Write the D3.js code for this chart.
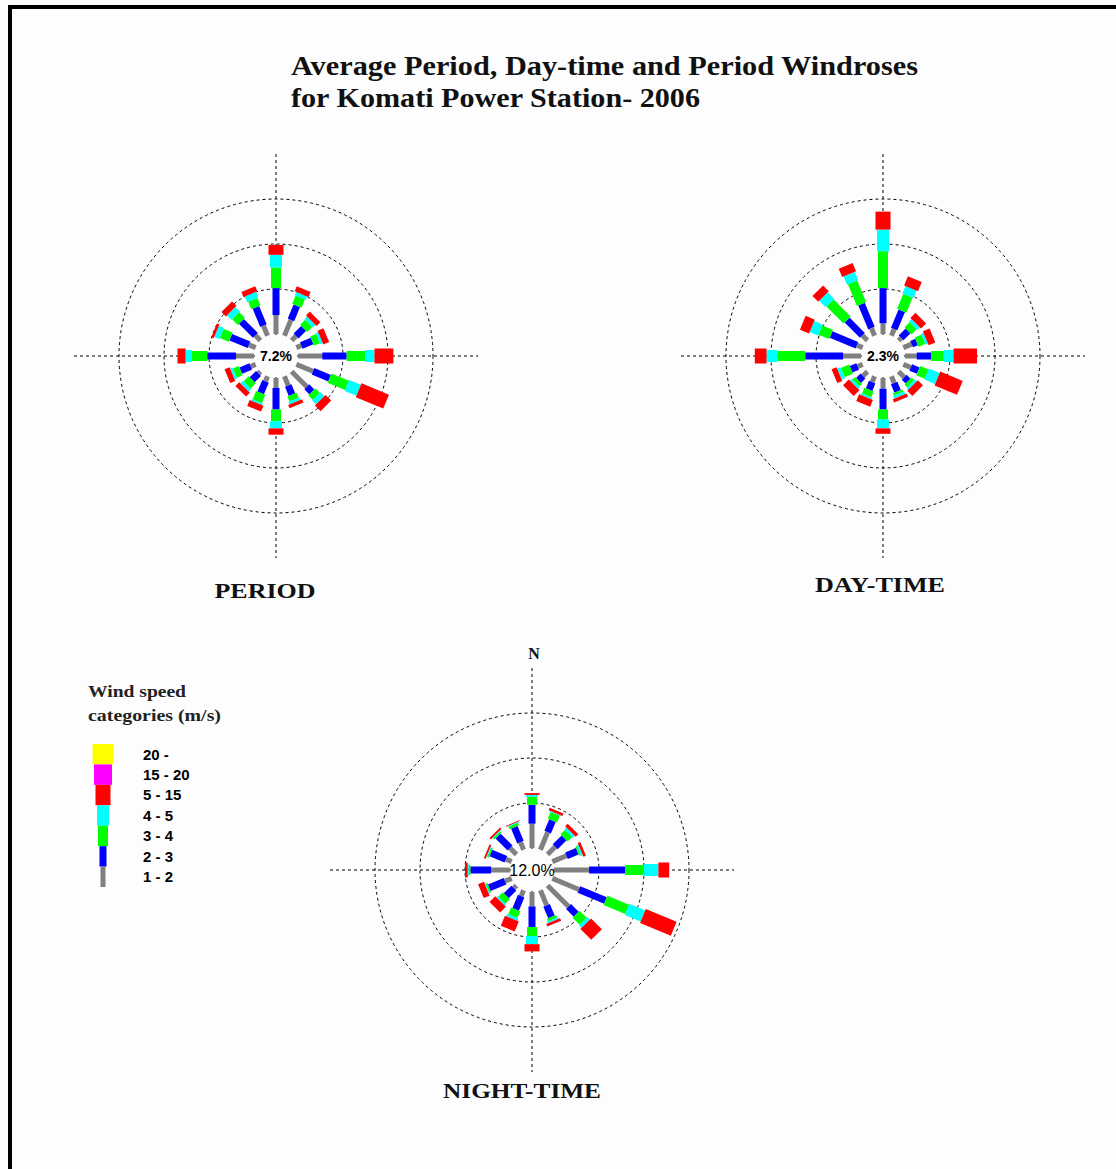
<!DOCTYPE html>
<html>
<head>
<meta charset="utf-8">
<script src="https://cdn.jsdelivr.net/npm/d3@7"></script>
<style>
  html, body { margin: 0; padding: 0; background: #fdfdfd; }
  svg { display: block; }
</style>
</head>
<body>
<div id="chart"></div>
<script>
// ---- data (percent of hours) ----
const directions = ["N","NNE","NE","ENE","E","ESE","SE","SSE","S","SSW","SW","WSW","W","WNW","NW","NNW"];
const categories = ["1 - 2","2 - 3","3 - 4","4 - 5","5 - 15"];
const legendLabels = ["20 -","15 - 20","5 - 15","4 - 5","3 - 4","2 - 3","1 - 2"];
const ringValues = [5, 10, 15];

// one row per direction: [1-2, 2-3, 3-4, 4-5, 5-15]
const periodValues = [
  [2.1, 3.0, 2.3, 1.4, 1.1],
  [1.9, 1.7, 1.0, 0.4, 0.6],
  [0.7, 1.2, 0.8, 0.4, 0.6],
  [0.6, 1.3, 0.7, 0.3, 0.7],
  [2.7, 2.7, 2.1, 1.0, 2.1],
  [2.0, 2.0, 2.1, 1.4, 3.3],
  [2.4, 0.8, 0.7, 0.6, 0.9],
  [1.1, 1.1, 0.6, 0.3, 0.4],
  [1.1, 2.4, 1.3, 0.8, 0.7],
  [0.6, 1.4, 1.0, 0.2, 0.7],
  [0.3, 1.0, 0.8, 0.4, 0.6],
  [0.6, 1.2, 0.7, 0.3, 0.6],
  [2.0, 3.2, 1.7, 0.7, 0.9],
  [0.8, 2.2, 1.1, 0.6, 0.3],
  [0.8, 2.2, 0.9, 0.7, 0.7],
  [1.2, 2.2, 0.9, 0.7, 0.6]
];
const dayValues = [
  [1.2, 3.9, 4.1, 2.4, 2.0],
  [0.8, 2.2, 1.8, 0.9, 1.1],
  [0.4, 1.1, 0.8, 0.4, 0.8],
  [1.0, 0.6, 0.8, 0.3, 0.8],
  [1.3, 1.6, 1.4, 1.1, 2.6],
  [0.9, 0.9, 1.0, 1.3, 2.7],
  [0.9, 0.6, 0.4, 0.3, 0.8],
  [0.8, 1.0, 0.3, 0.3, 0.4],
  [1.2, 2.3, 1.1, 1.0, 0.6],
  [0.7, 0.9, 0.7, 0.2, 0.8],
  [0.7, 0.7, 0.4, 0.3, 0.9],
  [0.6, 0.8, 1.0, 0.4, 0.6],
  [2.0, 4.2, 3.1, 1.2, 1.3],
  [0.7, 3.1, 1.3, 1.0, 1.1],
  [0.8, 2.4, 2.7, 1.0, 0.9],
  [0.9, 2.9, 2.6, 1.0, 1.0]
];
const nightValues = [
  [2.7, 2.1, 0.9, 0.2, 0.2],
  [2.1, 1.4, 0.8, 0.1, 0.3],
  [1.2, 1.4, 0.7, 0.3, 0.4],
  [1.7, 1.3, 0.2, 0.2, 0.3],
  [3.9, 4.0, 2.1, 1.6, 1.2],
  [3.2, 3.2, 2.6, 1.9, 3.7],
  [3.3, 1.2, 1.1, 0.4, 1.7],
  [1.8, 1.4, 0.3, 0.2, 0.3],
  [1.6, 2.3, 1.0, 0.9, 0.8],
  [0.7, 1.6, 0.8, 0.3, 1.2],
  [0.4, 1.2, 0.7, 0.2, 0.9],
  [0.8, 1.9, 0.2, 0.1, 0.7],
  [2.1, 2.3, 0.2, 0.1, 0.3],
  [0.7, 1.8, 0.2, 0.1, 0.2],
  [1.0, 1.9, 0.2, 0.1, 0.2],
  [0.9, 1.8, 0.3, 0.1, 0.1]
];
const calms = { period: "7.2%", day: "2.3%", night: "12.0%" };

// ---- styles ----
const catColors = ["#808080", "#0000ff", "#00ff00", "#00ffff", "#ff0000"];
const catWidths = [5, 7, 10, 12, 15];
const legendColors = ["#ffff00", "#ff00ff", "#ff0000", "#00ffff", "#00ff00", "#0000ff", "#808080"];
const legendWidths = [21, 18, 15, 12, 10, 7, 5];
const serif = "'Liberation Serif', 'Times New Roman', serif";
const sans = "'Liberation Sans', Arial, sans-serif";

const width = 1116, height = 1169;
const holeR = 22;

const svg = d3.select("#chart").append("svg")
  .attr("width", width)
  .attr("height", height);

svg.append("rect").attr("width", width).attr("height", height).attr("fill", "#fdfdfd");

// frame (top and left edges only visible)
svg.append("rect").attr("x", 8).attr("y", 5).attr("width", width - 8).attr("height", 4).attr("fill", "#000");
svg.append("rect").attr("x", 8).attr("y", 5).attr("width", 4).attr("height", height - 5).attr("fill", "#000");

// title
const title = svg.append("g")
  .attr("font-family", serif)
  .attr("font-weight", "bold")
  .attr("font-size", 28)
  .attr("fill", "#111");
title.append("text").attr("x", 291).attr("y", 75)
  .attr("textLength", 627).attr("lengthAdjust", "spacingAndGlyphs")
  .text("Average Period, Day-time and Period Windroses");
title.append("text").attr("x", 291).attr("y", 107)
  .attr("textLength", 409).attr("lengthAdjust", "spacingAndGlyphs")
  .text("for Komati Power Station- 2006");

const r = d3.scaleLinear().domain([0, 15]).range([holeR, holeR + 135]);
const stack = d3.stack().keys(d3.range(categories.length));

function windrose(cx, cy, values, calm, label, opts) {
  const g = svg.append("g").attr("transform", `translate(${cx},${cy})`);
  const dash = "3,3";

  // rings
  g.selectAll("circle.ring").data(ringValues).join("circle")
    .attr("class", "ring")
    .attr("r", d => r(d))
    .attr("fill", "none")
    .attr("stroke", "#000")
    .attr("stroke-width", 1)
    .attr("stroke-dasharray", dash);

  // axes
  const L = 202;
  g.append("line").attr("x1", -L).attr("x2", L).attr("y1", 0).attr("y2", 0)
    .attr("stroke", "#000").attr("stroke-dasharray", dash);
  g.append("line").attr("x1", 0).attr("x2", 0).attr("y1", -L).attr("y2", L)
    .attr("stroke", "#000").attr("stroke-dasharray", dash);

  // calm hole
  g.append("circle").attr("r", holeR - 1).attr("fill", "#fdfdfd");

  const series = stack(values);
  const angle = d3.scaleLinear().domain([0, directions.length]).range([0, 360]);

  const dirs = g.selectAll("g.dir").data(directions).join("g")
    .attr("class", "dir")
    .attr("transform", (d, i) => `rotate(${angle(i)})`);

  dirs.each(function (d, i) {
    const sel = d3.select(this);
    series.forEach((s, k) => {
      const [v0, v1] = s[i];
      if (v1 - v0 <= 0) return;
      sel.append("rect")
        .attr("x", -catWidths[k] / 2)
        .attr("y", -r(v1))
        .attr("width", catWidths[k])
        .attr("height", r(v1) - r(v0))
        .attr("fill", catColors[k]);
    });
  });

  g.append("text")
    .attr("text-anchor", "middle")
    .attr("dy", "0.36em")
    .attr("font-family", sans)
    .attr("font-size", opts.calmSize)
    .attr("font-weight", opts.calmWeight)
    .attr("fill", "#000")
    .text(calm);

  svg.append("text")
    .attr("x", opts.labelX)
    .attr("y", opts.labelY)
    .attr("text-anchor", "middle")
    .attr("font-family", serif)
    .attr("font-weight", "bold")
    .attr("font-size", 22)
    .attr("textLength", opts.labelLen)
    .attr("lengthAdjust", "spacingAndGlyphs")
    .attr("fill", "#111")
    .text(label);
}

windrose(276, 356, periodValues, calms.period, "PERIOD",
  { calmSize: 14, calmWeight: "bold", labelX: 265, labelY: 598, labelLen: 101 });
windrose(883, 356, dayValues, calms.day, "DAY-TIME",
  { calmSize: 14, calmWeight: "bold", labelX: 880, labelY: 592, labelLen: 130 });
windrose(532, 870, nightValues, calms.night, "NIGHT-TIME",
  { calmSize: 16, calmWeight: "normal", labelX: 522, labelY: 1098, labelLen: 158 });

// north marker on the night rose
svg.append("text")
  .attr("x", 534).attr("y", 659)
  .attr("text-anchor", "middle")
  .attr("font-family", serif)
  .attr("font-weight", "bold")
  .attr("font-size", 16)
  .attr("fill", "#111")
  .text("N");

// legend
const legend = svg.append("g");
legend.append("text").attr("x", 88).attr("y", 697)
  .attr("font-family", serif).attr("font-weight", "bold").attr("font-size", 17)
  .attr("textLength", 98).attr("lengthAdjust", "spacingAndGlyphs")
  .attr("fill", "#222").text("Wind speed");
legend.append("text").attr("x", 88).attr("y", 721)
  .attr("font-family", serif).attr("font-weight", "bold").attr("font-size", 17)
  .attr("textLength", 133).attr("lengthAdjust", "spacingAndGlyphs")
  .attr("fill", "#222").text("categories (m/s)");

const ly = d3.scaleBand().domain(legendLabels).range([744, 887]).padding(0);
legend.selectAll("rect.key").data(legendLabels).join("rect")
  .attr("class", "key")
  .attr("x", (d, i) => 103 - legendWidths[i] / 2)
  .attr("y", d => ly(d))
  .attr("width", (d, i) => legendWidths[i])
  .attr("height", ly.bandwidth())
  .attr("fill", (d, i) => legendColors[i]);
legend.selectAll("text.key").data(legendLabels).join("text")
  .attr("class", "key")
  .attr("x", 143)
  .attr("y", d => ly(d) + ly.bandwidth() / 2)
  .attr("dy", "0.36em")
  .attr("font-family", sans)
  .attr("font-weight", "bold")
  .attr("font-size", 15)
  .attr("fill", "#000")
  .text(d => d);
</script>
</body>
</html>
